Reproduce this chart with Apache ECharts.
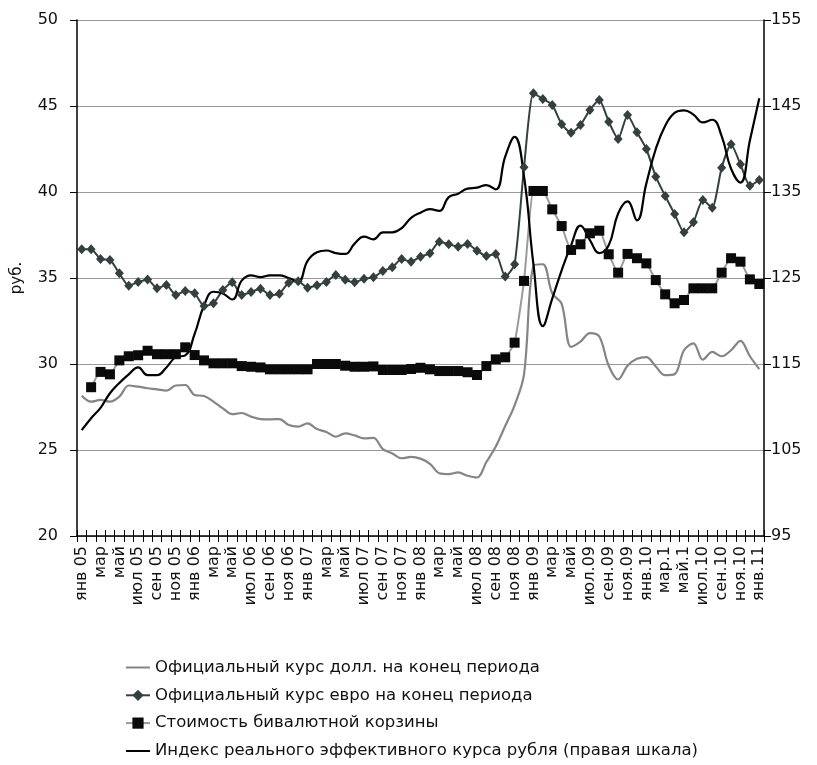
<!DOCTYPE html>
<html><head><meta charset="utf-8">
<script src="https://cdn.jsdelivr.net/npm/echarts@6/dist/echarts.min.js"></script>
<style>html,body{margin:0;padding:0;background:#fff}#c{width:817px;height:765px}</style>
</head><body><div id="c"></div>
<script>
const categories = ["янв 05","фев","мар","апр","май","июн","июл 05","авг","сен 05","окт","ноя 05","дек",
"янв 06","фев","мар","апр","май","июн","июл 06","авг","сен 06","окт","ноя 06","дек",
"янв 07","фев","мар","апр","май","июн","июл 07","авг","сен 07","окт","ноя 07","дек",
"янв 08","фев","мар","апр","май","июн","июл 08","авг","сен 08","окт","ноя 08","дек",
"янв 09","фев","мар","апр","май","июн","июл.09","авг","сен.09","окт","ноя.09","дек",
"янв.10","фев","мар.1","апр","май.1","июн","июл.10","авг","сен.10","окт","ноя.10","дек","янв.11"];
const usd = [28.16,27.81,27.91,27.81,28.10,28.75,28.68,28.59,28.53,28.45,28.75,28.78,
28.20,28.14,27.81,27.42,27.08,27.15,26.94,26.80,26.78,26.80,26.45,26.36,
26.55,26.22,26.05,25.77,25.97,25.85,25.68,25.70,25.05,24.80,24.52,24.60,
24.50,24.20,23.65,23.60,23.70,23.50,23.40,24.30,25.20,26.40,27.60,29.40,
35.70,35.80,34.10,33.50,31.00,31.30,31.80,31.60,29.90,29.10,29.90,30.30,
30.40,29.85,29.35,29.40,30.80,31.20,30.25,30.70,30.45,30.80,31.35,30.45,29.70];
const eur = [36.67,36.67,36.10,36.05,35.27,34.55,34.77,34.92,34.40,34.59,34.01,34.24,
34.11,33.37,33.53,34.30,34.75,34.01,34.19,34.38,34.01,34.09,34.73,34.81,
34.44,34.58,34.77,35.17,34.90,34.75,34.96,35.04,35.41,35.62,36.10,35.95,
36.24,36.44,37.11,36.96,36.82,36.98,36.59,36.28,36.40,35.08,35.80,41.44,
45.74,45.41,45.06,43.94,43.45,43.90,44.77,45.35,44.09,43.08,44.48,43.47,
42.50,40.89,39.77,38.72,37.66,38.24,39.53,39.09,41.41,42.77,41.61,40.37,40.70];
const basket = [null,28.65,29.54,29.40,30.21,30.45,30.51,30.77,30.57,30.57,30.57,30.97,
30.52,30.21,30.04,30.04,30.04,29.88,29.84,29.80,29.69,29.69,29.69,29.69,
29.69,30.00,30.00,30.00,29.90,29.84,29.84,29.86,29.65,29.65,29.65,29.71,
29.78,29.69,29.59,29.59,29.59,29.52,29.36,29.88,30.27,30.39,31.24,34.83,
40.06,40.06,38.99,38.02,36.63,36.96,37.60,37.75,36.38,35.31,36.40,36.15,
35.85,34.88,34.05,33.53,33.72,34.40,34.40,34.40,35.31,36.15,35.95,34.92,34.65];
const reer = [107.3,108.7,109.9,111.6,112.8,113.8,114.6,113.7,113.7,114.6,115.8,116.0,
118.5,121.8,123.4,123.2,122.5,124.7,125.3,125.1,125.3,125.3,125.0,124.6,
127.0,128.0,128.2,127.9,127.8,129.0,129.8,129.5,130.3,130.3,130.8,132.0,
132.6,133.0,132.8,134.4,134.8,135.4,135.5,135.8,135.3,139.1,141.4,136.8,
126.6,119.4,122.6,125.9,128.8,131.1,129.4,127.9,128.8,132.5,133.9,131.7,
136.0,140.0,142.7,144.2,144.5,144.0,143.1,143.4,141.5,137.7,136.1,141.0,145.9];
const names = ["Официальный курс долл. на конец периода","Официальный курс евро на конец периода","Стоимость бивалютной корзины","Индекс реального эффективного курса рубля (правая шкала)"];

const FONT = "DejaVu Sans";
const LINE_ICON = 'path://M0,0 L0.01,0 L0.01,0.01 Z M0,6 L24,6 L24,8 L0,8 Z M23.99,14 L24,14 L24,13.99 Z';
const chart = echarts.init(document.getElementById('c'), null, {renderer:'canvas'});
chart.setOption({
  animation:false,
  textStyle:{fontFamily:FONT},
  grid:{left:77,right:53,top:20,bottom:229,containLabel:false},
  legend:{orient:'vertical',left:120,top:654,itemGap:10.8,itemWidth:24,itemHeight:14,height:110,
    textStyle:{fontFamily:FONT,fontSize:16.5,color:'#111'},
    data:[{name:names[0],icon:LINE_ICON},{name:names[1]},{name:names[2]},{name:names[3],icon:LINE_ICON}]},
  xAxis:[{type:'category',data:categories,boundaryGap:true,
    axisLine:{lineStyle:{color:'#000',width:1.5}},
    axisTick:{show:true,interval:0,length:6,lineStyle:{color:'#000'}},
    axisLabel:{interval:1,rotate:90,fontSize:16,color:'#111',fontFamily:FONT,margin:10},
    splitLine:{show:false}},
   {type:'category',data:categories,boundaryGap:true,position:'bottom',
    axisLine:{show:false},axisTick:{show:true,inside:true,interval:0,length:6,lineStyle:{color:'#000'}},
    axisLabel:{show:false},splitLine:{show:false}}],
  yAxis:[{type:'value',min:20,max:50,interval:5,name:'руб.',nameLocation:'middle',nameGap:52,nameRotate:90,
    nameTextStyle:{fontSize:15,color:'#111',fontFamily:FONT},
    axisLine:{show:true,lineStyle:{color:'#000',width:1.5}},
    axisTick:{show:true,length:7,lineStyle:{color:'#000'}},
    axisLabel:{fontSize:16,color:'#111',margin:19,fontFamily:FONT},
    splitLine:{show:true,lineStyle:{color:'#999',width:1.2}}},
   {type:'value',min:95,max:155,interval:10,position:'right',
    axisLine:{show:true,lineStyle:{color:'#000',width:1.5}},
    axisTick:{show:true,length:7,lineStyle:{color:'#000'}},
    axisLabel:{fontSize:16,color:'#111',margin:7,fontFamily:FONT},
    splitLine:{show:false}}],
  series:[
   {name:names[0],type:'line',data:usd,yAxisIndex:0,smooth:0.35,symbol:'none',
    lineStyle:{color:'#858585',width:2.2},itemStyle:{color:'#858585'}},
   {name:names[1],type:'line',data:eur,yAxisIndex:0,smooth:0.2,symbol:'diamond',symbolSize:[9,10],showSymbol:true,showAllSymbol:true,
    lineStyle:{color:'#34403f',width:2},itemStyle:{color:'#34403f'}},
   {name:names[2],type:'line',data:basket,yAxisIndex:0,smooth:0.15,symbol:'rect',symbolSize:10,showSymbol:true,showAllSymbol:true,connectNulls:false,
    lineStyle:{color:'#9a9a9a',width:2},itemStyle:{color:'#0a0a0a'}},
   {name:names[3],type:'line',data:reer,yAxisIndex:1,smooth:0.45,symbol:'none',
    lineStyle:{color:'#000',width:2.2},itemStyle:{color:'#000'}}
  ]
});
</script></body></html>
